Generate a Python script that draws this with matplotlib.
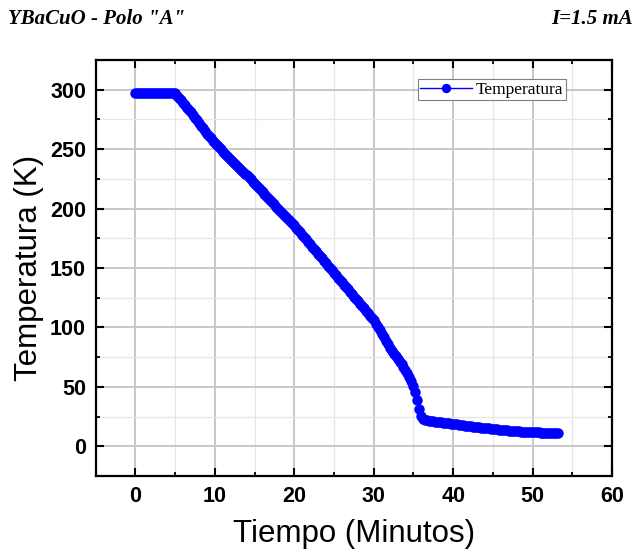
import matplotlib
matplotlib.use("Agg")
import matplotlib.pyplot as plt
from matplotlib.ticker import MultipleLocator
from matplotlib.font_manager import FontProperties

# ---- data ----
tiempo = [
    0.0, 0.25, 0.5, 0.75, 1.0, 1.25, 1.5, 1.75, 2.0, 2.25, 2.5, 2.75,
    3.0, 3.25, 3.5, 3.75, 4.0, 4.25, 4.5, 4.75, 5.0, 5.25, 5.5, 5.75,
    6.0, 6.25, 6.5, 6.75, 7.0, 7.25, 7.5, 7.75, 8.0, 8.25, 8.5, 8.75,
    9.0, 9.25, 9.5, 9.75, 10.0, 10.25, 10.5, 10.75, 11.0, 11.25, 11.5, 11.75,
    12.0, 12.25, 12.5, 12.75, 13.0, 13.25, 13.5, 13.75, 14.0, 14.25, 14.5, 14.75,
    15.0, 15.25, 15.5, 15.75, 16.0, 16.25, 16.5, 16.75, 17.0, 17.25, 17.5, 17.75,
    18.0, 18.25, 18.5, 18.75, 19.0, 19.25, 19.5, 19.75, 20.0, 20.25, 20.5, 20.75,
    21.0, 21.25, 21.5, 21.75, 22.0, 22.25, 22.5, 22.75, 23.0, 23.25, 23.5, 23.75,
    24.0, 24.25, 24.5, 24.75, 25.0, 25.25, 25.5, 25.75, 26.0, 26.25, 26.5, 26.75,
    27.0, 27.25, 27.5, 27.75, 28.0, 28.25, 28.5, 28.75, 29.0, 29.25, 29.5, 29.75,
    30.0, 30.25, 30.5, 30.75, 31.0, 31.25, 31.5, 31.75, 32.0, 32.25, 32.5, 32.75,
    33.0, 33.25, 33.5, 33.75, 34.0, 34.25, 34.5, 34.75, 35.0, 35.25, 35.5, 35.75,
    36.0, 36.25, 36.5, 36.75, 37.0, 37.25, 37.5, 37.75, 38.0, 38.25, 38.5, 38.75,
    39.0, 39.25, 39.5, 39.75, 40.0, 40.25, 40.5, 40.75, 41.0, 41.25, 41.5, 41.75,
    42.0, 42.25, 42.5, 42.75, 43.0, 43.25, 43.5, 43.75, 44.0, 44.25, 44.5, 44.75,
    45.0, 45.25, 45.5, 45.75, 46.0, 46.25, 46.5, 46.75, 47.0, 47.25, 47.5, 47.75,
    48.0, 48.25, 48.5, 48.75, 49.0, 49.25, 49.5, 49.75, 50.0, 50.25, 50.5, 50.75,
    51.0, 51.25, 51.5, 51.75, 52.0, 52.25, 52.5, 52.75, 53.0, 53.25,
]

temperatura = [
    297, 297, 297, 297, 297, 297, 297, 297, 297, 297, 297, 297,
    297, 297, 297, 297, 297, 297, 297, 297, 297, 295, 293, 291,
    289, 287, 285, 283, 281, 278.7, 276.5, 274.2, 272, 269.7, 267.5, 265.2,
    263, 261, 259, 257, 255, 253.2, 251.5, 249.7, 248, 246.2, 244.5, 242.7,
    241, 239.2, 237.5, 235.7, 234, 232.5, 231, 229.5, 228, 226.2, 224.5, 222.7,
    221, 219.2, 217.5, 215.7, 214, 212.2, 210.5, 208.7, 207, 205.2, 203.5, 201.7,
    200, 198.2, 196.5, 194.7, 193, 191.2, 189.5, 187.7, 186, 184, 182, 180,
    178, 176, 174, 172, 170, 168, 166, 164, 162, 160, 158, 156,
    154, 152, 150, 148, 146, 144, 142, 140, 138, 136, 134, 132,
    130, 128, 126, 124, 122, 120, 118, 116, 114, 112, 110, 108,
    106, 103.2, 100.4, 97.5, 94.6, 91.7, 88.8, 85.9, 83, 80.5, 78, 75.7,
    73.5, 71.2, 69, 66.5, 64, 61.3, 58.5, 55, 50.5, 45.5, 39, 31,
    25.5, 23, 22.2, 21.7, 21.4, 21.2, 21, 20.8, 20.6, 20.4, 20.15, 19.9,
    19.7, 19.5, 19.25, 19.0, 18.8, 18.6, 18.35, 18.1, 17.9, 17.7, 17.45, 17.2,
    17.0, 16.8, 16.6, 16.4, 16.2, 16.0, 15.8, 15.65, 15.5, 15.3, 15.05, 14.8,
    14.6, 14.4, 14.2, 14.0, 13.8, 13.65, 13.5, 13.35, 13.2, 13.05, 12.9, 12.75,
    12.6, 12.5, 12.4, 12.3, 12.2, 12.1, 12.0, 11.9, 11.8, 11.75, 11.7, 11.6,
    11.55, 11.5, 11.45, 11.4, 11.3, 11.25, 11.2, 11.15, 11.1, 11.0,
]

serie_label = "Temperatura"
titulo_izq = 'YBaCuO - Polo "A"'
titulo_der = "I=1.5 mA"
xlabel = "Tiempo (Minutos)"
ylabel = "Temperatura (K)"

# ---- figure ----
W, H = 638, 554
fig = plt.figure(figsize=(W / 100, H / 100), dpi=100)
L, R, T, B = 95.7, 612, 60, 476
ax = fig.add_axes([L / W, 1 - B / H, (R - L) / W, (B - T) / H])

ax.plot(tiempo, temperatura, color="#0000ff", lw=1.0, marker="o",
        markersize=7.5, markeredgewidth=0, label=serie_label, zorder=3)

ax.set_xlim(-5, 60)
ax.set_ylim(-25, 325)
ax.xaxis.set_major_locator(MultipleLocator(10))
ax.xaxis.set_minor_locator(MultipleLocator(5))
ax.yaxis.set_major_locator(MultipleLocator(50))
ax.yaxis.set_minor_locator(MultipleLocator(25))

ax.set_axisbelow(True)
ax.grid(which="major", color="#c8c8c8", lw=1.4)
ax.grid(which="minor", color="#e6e6e6", lw=0.9)

for s in ax.spines.values():
    s.set_linewidth(1.6)
    s.set_color("black")

ax.tick_params(which="both", direction="in", top=True, right=True, color="black")
ax.tick_params(which="major", length=6, width=1.5, pad=7)
ax.tick_params(which="minor", length=3, width=1.3)

tick_fp = FontProperties(family="Liberation Sans", weight="bold", size=15.5)
for lab in ax.get_xticklabels() + ax.get_yticklabels():
    lab.set_fontproperties(tick_fp)

ax.set_xlabel(xlabel, fontfamily="Liberation Sans", fontsize=22.5)
ax.set_ylabel(ylabel, fontfamily="Liberation Sans", fontsize=22.5)
ax.xaxis.label.set_va("center")
ax.yaxis.label.set_va("center")
ax.xaxis.set_label_coords(0.5, (B - 534) / (B - T))
ax.yaxis.set_label_coords((29 - L) / (R - L), 0.5)

leg = ax.legend(loc="upper right",
                bbox_to_anchor=((566 - L) / (R - L), (B - 79) / (B - T)),
                borderaxespad=0, prop=dict(family="Liberation Serif", size=12.5),
                frameon=True, fancybox=False, framealpha=1, edgecolor="#808080",
                borderpad=0.15, handlelength=3.0, handletextpad=0.2,
                markerscale=0.9)
leg.get_frame().set_linewidth(0.8)

fig.text(8 / W, 1 - 19.5 / H, titulo_izq, ha="left", va="center",
         fontfamily="Liberation Serif", fontweight="bold", fontstyle="italic",
         fontsize=15)
fig.text(633 / W, 1 - 19.5 / H, titulo_der, ha="right", va="center",
         fontfamily="Liberation Serif", fontweight="bold", fontstyle="italic",
         fontsize=15)

fig.savefig("out.png", dpi=100)
